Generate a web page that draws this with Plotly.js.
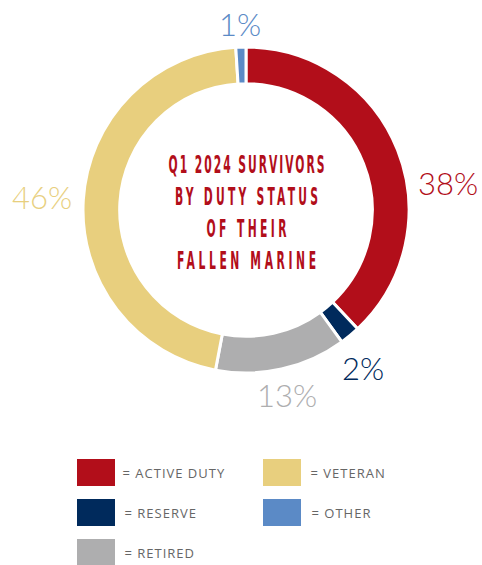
<!DOCTYPE html>
<html>
<head>
<meta charset="utf-8">
<script src="https://cdn.plot.ly/plotly-3.0.1.min.js"></script>
<style>
html,body{margin:0;padding:0;background:#fff;}
#chart{width:482px;height:565px;}
</style>
</head>
<body>
<div id="chart"></div>
<script>
// ---- data ----
const categories = ["ACTIVE DUTY", "RESERVE", "RETIRED", "VETERAN", "OTHER"];
const values = [38, 2, 13, 46, 1];
const percentLabels = ["38%", "2%", "13%", "46%", "1%"];
const colors = ["#B20E1A", "#002A5C", "#AEAEAF", "#E8CF7E", "#5B8AC6"];
const centerTitle = ["Q1 2024 SURVIVORS", "BY DUTY STATUS", "OF THEIR", "FALLEN MARINE"];

// ---- geometry / style (layout only) ----
const W = 482, H = 565;
const cx = 246, cy = 210, R = 163;
const labelShift = [14, 3, 0, 0, 0]; // degrees, label placement tweak
const titleLineWidths = [158, 145, 82, 141]; // px, to emulate a condensed display font
const px2x = x => x / W;
const px2y = y => 1 - y / H;

const total = values.reduce((a, b) => a + b, 0);
const annotations = [];
let cum = 0;
values.forEach((v, i) => {
  const midDeg = (cum + v / 2) / total * 360 + labelShift[i];
  cum += v;
  const t = midDeg * Math.PI / 180;
  const s = Math.sin(t), c = Math.cos(t);
  const rr = 185 + 19 * Math.abs(s);
  annotations.push({
    x: px2x(cx + rr * s), y: px2y(cy - rr * c),
    xref: "paper", yref: "paper", xanchor: "center", yanchor: "middle",
    text: percentLabels[i], showarrow: false,
    font: {family: "Lato, 'Open Sans', sans-serif", weight: 300, size: 31, color: colors[i]}
  });
});

// center title
annotations.push({
  x: px2x(cx), y: px2y(cy + 2), xref: "paper", yref: "paper",
  xanchor: "center", yanchor: "middle", showarrow: false,
  text: centerTitle.join("<br>"),
  font: {family: "'DejaVu Sans Condensed', 'DejaVu Sans', sans-serif", weight: 600, size: 24.5, color: "#B20E1A"}
});

// legend
const shapes = [];
categories.forEach((name, i) => {
  const col = i < 3 ? 0 : 1, row = i % 3;
  const x0 = 77 + col * 186, y0 = 459 + row * 40;
  shapes.push({
    type: "rect", xref: "paper", yref: "paper",
    x0: px2x(x0), x1: px2x(x0 + 38), y0: px2y(y0), y1: px2y(y0 + 27),
    fillcolor: colors[i], line: {width: 0}
  });
  annotations.push({
    x: px2x(x0 + 50), y: px2y(y0 + 13.5), xref: "paper", yref: "paper",
    xanchor: "left", yanchor: "middle", showarrow: false,
    text: "= " + name,
    font: {family: "'Open Sans', sans-serif", size: 13, color: "#666666"}
  });
});

const trace = {
  type: "pie",
  labels: categories,
  values: values,
  sort: false,
  direction: "clockwise",
  rotation: 0,
  hole: 0.775,
  marker: {colors: colors, line: {color: "#ffffff", width: 3}},
  textinfo: "none",
  hoverinfo: "skip",
  showlegend: false,
  domain: {x: [px2x(cx - R), px2x(cx + R)], y: [px2y(cy + R), px2y(cy - R)]}
};

const layout = {
  width: W, height: H,
  margin: {l: 0, r: 0, t: 0, b: 0},
  paper_bgcolor: "#fff",
  showlegend: false,
  annotations: annotations,
  shapes: shapes
};

Plotly.newPlot("chart", [trace], layout, {staticPlot: true}).then(() => {
  document.querySelectorAll("g.annotation").forEach(g => {
    const idx = +g.getAttribute("data-index");
    const t = g.querySelector("text.annotation-text");
    if (!t) return;
    if (idx === values.length) {
      t.style.letterSpacing = "4px";
      const lines = t.querySelectorAll("tspan.line");
      const w0 = lines.length ? lines[0].getComputedTextLength() : t.getBBox().width;
      const k = titleLineWidths[0] / w0;
      const bb = t.getBBox();
      const mx = bb.x + bb.width / 2;
      lines.forEach((ln, j) => {
        if (j > 0 && titleLineWidths[j]) {
          ln.setAttribute("textLength", titleLineWidths[j] / k);
          ln.setAttribute("lengthAdjust", "spacing");
        }
      });
      t.setAttribute("transform", "translate(" + (mx + 2) + ",0) scale(" + k + ",1) translate(" + (-mx) + ",0)");
    } else if (idx > values.length) {
      t.style.letterSpacing = "1px";
    }
  });
});
</script>
</body>
</html>
